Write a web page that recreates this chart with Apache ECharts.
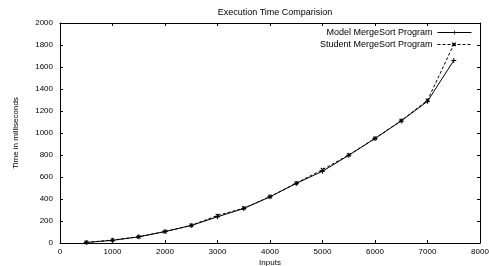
<!DOCTYPE html>
<html>
<head>
<meta charset="utf-8">
<script src="https://cdn.jsdelivr.net/npm/echarts@6/dist/echarts.min.js"></script>
<style>
  html, body { margin: 0; padding: 0; background: #fff; }
  #chart { width: 489px; height: 266px; }
</style>
</head>
<body>
<div id="chart"></div>
<script>
// inputs (x) and measured times in ms
const inputs = [500, 1000, 1500, 2000, 2500, 3000, 3500, 4000, 4500, 5000, 5500, 6000, 6500, 7000, 7500];
const modelTimes = [5, 24, 56, 104, 159, 238, 314, 420, 542, 652, 797, 950, 1110, 1288, 1659];
const studentTimes = [5, 27, 56, 104, 161, 250, 316, 421, 545, 667, 800, 951, 1113, 1297, 1805];
const seriesNames = ['Model MergeSort Program', 'Student MergeSort Program'];

const font = 'Liberation Sans, Arial, sans-serif';
const plus = 'path://M4,0H6V4H10V6H6V10H4V6H0V4H4Z';

function pairs(ys) {
  return inputs.map((x, i) => [x, ys[i]]);
}

const chart = echarts.init(document.getElementById('chart'));
const tickStyle = { show: true, inside: true, length: 3, lineStyle: { color: '#000', width: 1 } };
const axisLine = { show: true, onZero: false, lineStyle: { color: '#000', width: 1 } };
const labelStyle = { fontFamily: font, fontSize: 8, color: '#000', formatter: v => String(v) };

chart.setOption({
  animation: false,
  title: {
    text: 'Execution Time Comparision',
    left: 270,
    top: 3,
    textAlign: 'center',
    textStyle: { fontFamily: font, fontSize: 9, fontWeight: 'normal', color: '#000' },
  },
  legend: {
    right: 17,
    top: 28,
    orient: 'vertical',
    align: 'right',
    itemWidth: 34,
    itemHeight: 5,
    itemGap: 3,
    padding: 0,
    lineStyle: { width: 1 },
    textStyle: { fontFamily: font, fontSize: 9, color: '#000' },
    data: seriesNames,
  },
  grid: { left: 60, right: 9, top: 23, bottom: 23, outerBoundsMode: 'none' },
  xAxis: [
    {
      type: 'value', min: 0, max: 8000, interval: 1000,
      name: 'Inputs', nameLocation: 'middle', nameGap: 16, nameMoveOverlap: false,
      nameTextStyle: { fontFamily: font, fontSize: 8, color: '#000' },
      axisLine, axisTick: tickStyle,
      axisLabel: Object.assign({ margin: 5 }, labelStyle),
      splitLine: { show: false },
    },
    {
      type: 'value', position: 'top', min: 0, max: 8000, interval: 1000,
      axisLine, axisTick: tickStyle, axisLabel: { show: false }, splitLine: { show: false },
    },
  ],
  yAxis: [
    {
      type: 'value', min: 0, max: 2000, interval: 200,
      name: 'Time in milliseconds', nameLocation: 'middle', nameGap: 40, nameMoveOverlap: false,
      nameTextStyle: { fontFamily: font, fontSize: 8, color: '#000' },
      axisLine, axisTick: tickStyle,
      axisLabel: Object.assign({ margin: 7 }, labelStyle),
      splitLine: { show: false },
    },
    {
      type: 'value', position: 'right', min: 0, max: 2000, interval: 200,
      axisLine, axisTick: tickStyle, axisLabel: { show: false }, splitLine: { show: false },
    },
  ],
  series: [
    {
      name: seriesNames[0],
      type: 'line',
      data: pairs(modelTimes),
      symbol: plus,
      symbolSize: 5,
      symbolKeepAspect: true,
      showAllSymbol: true,
      lineStyle: { color: '#000', width: 1 },
      itemStyle: { color: '#000' },
    },
    {
      name: seriesNames[1],
      type: 'line',
      data: pairs(studentTimes),
      symbol: plus,
      symbolSize: 5,
      symbolRotate: 45,
      symbolKeepAspect: true,
      showAllSymbol: true,
      lineStyle: { color: '#000', width: 1, type: [3, 2] },
      itemStyle: { color: '#000' },
    },
  ],
});
</script>
</body>
</html>
